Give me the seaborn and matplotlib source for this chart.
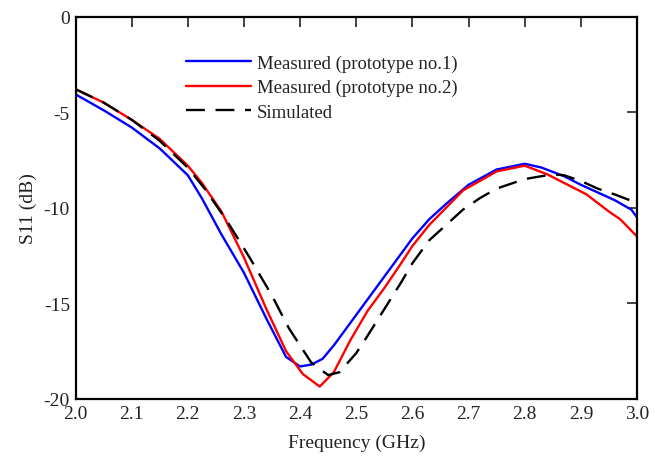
import matplotlib
matplotlib.use("Agg")
import matplotlib.pyplot as plt
import seaborn as sns
import pandas as pd

freq_p1 = [2.00, 2.05, 2.10, 2.15, 2.20, 2.225, 2.26, 2.30, 2.34, 2.375, 2.40, 2.42, 2.44,
           2.46, 2.49, 2.52, 2.55, 2.58, 2.60, 2.63, 2.66, 2.70, 2.75, 2.80, 2.83, 2.87,
           2.90, 2.93, 2.96, 2.99, 3.00]
s11_p1 = [-4.07, -4.9, -5.8, -6.9, -8.3, -9.5, -11.4, -13.4, -15.8, -17.8, -18.3, -18.2, -17.9,
          -17.2, -16.0, -14.8, -13.6, -12.4, -11.6, -10.6, -9.8, -8.8, -8.0, -7.7, -7.9, -8.35,
          -8.8, -9.2, -9.6, -10.1, -10.5]

freq_p2 = [2.00, 2.05, 2.10, 2.15, 2.20, 2.225, 2.26, 2.30, 2.34, 2.375, 2.405, 2.435, 2.46,
           2.49, 2.52, 2.55, 2.58, 2.60, 2.63, 2.66, 2.69, 2.72, 2.75, 2.80, 2.84, 2.87,
           2.91, 2.95, 2.97, 3.00]
s11_p2 = [-3.8, -4.5, -5.4, -6.4, -7.8, -8.7, -10.2, -12.6, -15.3, -17.5, -18.7, -19.35, -18.6,
          -16.9, -15.4, -14.2, -12.9, -12.0, -10.9, -10.0, -9.1, -8.6, -8.1, -7.8, -8.25, -8.7,
          -9.3, -10.2, -10.6, -11.5]

freq_sim = [2.00, 2.05, 2.10, 2.15, 2.20, 2.23, 2.27, 2.31, 2.35, 2.38, 2.42, 2.45, 2.47,
            2.50, 2.52, 2.55, 2.58, 2.60, 2.63, 2.66, 2.69, 2.72, 2.75, 2.80, 2.85, 2.87,
            2.90, 2.93, 2.96, 3.00]
s11_sim = [-3.8, -4.5, -5.4, -6.5, -7.9, -9.0, -10.7, -12.6, -14.6, -16.3, -18.1, -18.75, -18.6,
           -17.6, -16.7, -15.3, -13.9, -12.9, -11.7, -10.9, -10.1, -9.5, -9.0, -8.5, -8.25, -8.3,
           -8.6, -9.0, -9.3, -9.75]

labels = ["Measured (prototype no.1)", "Measured (prototype no.2)", "Simulated"]
x_ticks = [2.0, 2.1, 2.2, 2.3, 2.4, 2.5, 2.6, 2.7, 2.8, 2.9, 3.0]
y_ticks = [0, -5, -10, -15, -20]

sns.set_style("white")
plt.rcParams["font.family"] = ["Liberation Serif", "DejaVu Serif"]

fs = 14
fig = plt.figure(figsize=(6.55, 4.6), dpi=100)
ax = fig.add_axes([75.5 / 655, 1 - 400 / 460, (637 - 75.5) / 655, (400 - 17.5) / 460])

df1 = pd.DataFrame({"f": freq_p1, "s": s11_p1})
df2 = pd.DataFrame({"f": freq_p2, "s": s11_p2})
df3 = pd.DataFrame({"f": freq_sim, "s": s11_sim})

sns.lineplot(data=df1, x="f", y="s", ax=ax, color="#0000ff", lw=1.7, label=labels[0])
sns.lineplot(data=df2, x="f", y="s", ax=ax, color="#ff0000", lw=1.7, label=labels[1])
sns.lineplot(data=df3, x="f", y="s", ax=ax, color="black", lw=1.7, label=labels[2],
             dashes=False)
ax.lines[2].set_dashes([8, 4.5])

ax.set_xlim(2.0, 3.0)
ax.set_ylim(-20, 0)
ax.set_xticks(x_ticks)
ax.set_xticklabels([f"{t:.1f}" for t in x_ticks])
ax.set_yticks(y_ticks)
ax.set_yticklabels([f"{t}" for t in y_ticks])
ax.tick_params(direction="in", length=7, width=1.2, top=True, right=True,
               labelsize=fs, colors="#222222", pad=4)
for s in ax.spines.values():
    s.set_linewidth(1.6)
    s.set_color("black")
ax.set_xlabel("Frequency (GHz)", fontsize=fs, color="#222222", labelpad=9)
ax.set_ylabel("S11 (dB)", fontsize=fs, color="#222222", labelpad=5)

leg = ax.legend(loc="upper left", bbox_to_anchor=(0.183, 0.92), frameon=False,
                fontsize=13.5, handlelength=3.5, handletextpad=0.3, labelspacing=0.38,
                borderaxespad=0)
for t in leg.get_texts():
    t.set_color("#222222")

fig.savefig("out.png", dpi=100)
